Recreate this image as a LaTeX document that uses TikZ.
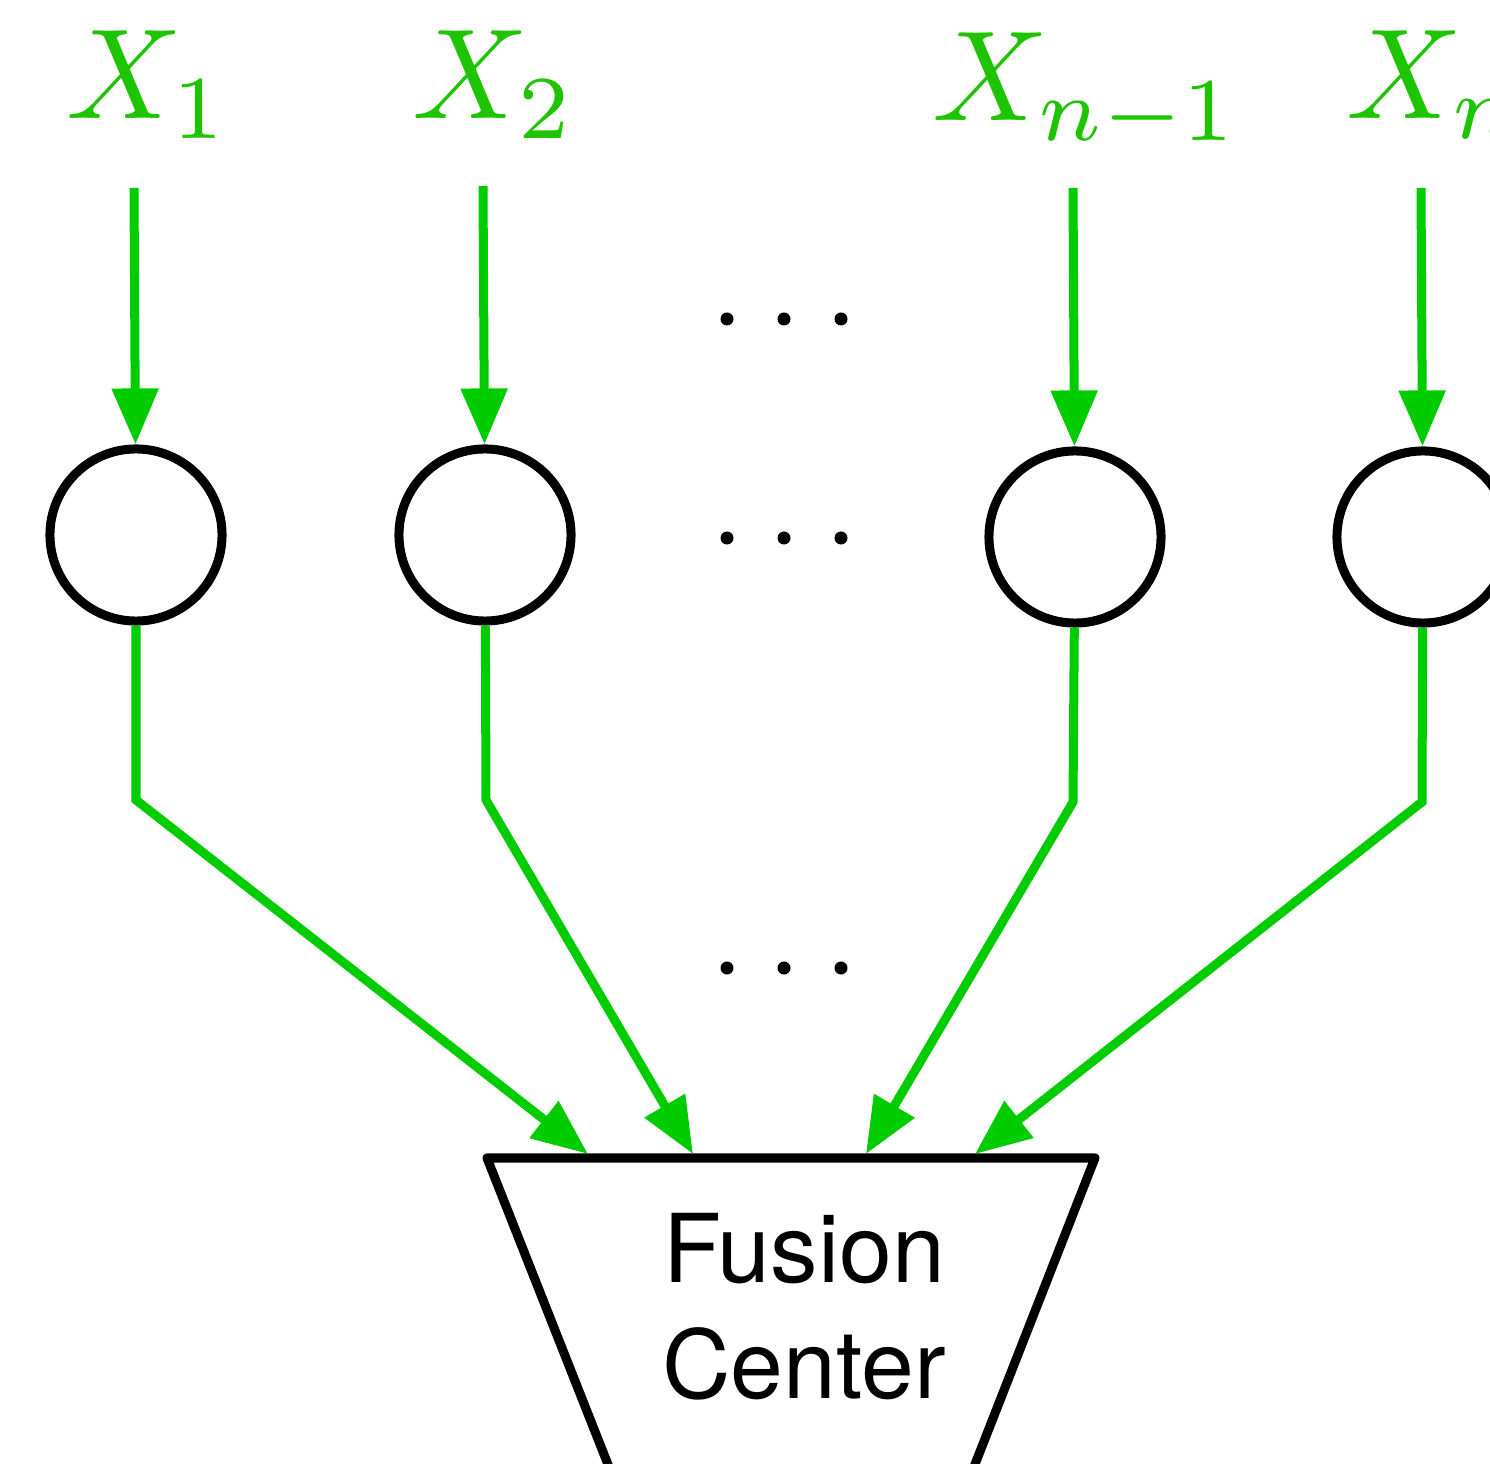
\documentclass[tikz,border=0pt]{standalone}
\usepackage{fontspec}
\setsansfont{TeX Gyre Heros}
\usetikzlibrary{arrows.meta}
\definecolor{sig}{RGB}{0,204,0}
\definecolor{lab}{RGB}{30,196,0}

\begin{document}
\begin{tikzpicture}[x=0.01cm,y=-0.01cm,
  wire/.style={draw=sig,line width=0.09cm},
  arr/.style={wire,-{Triangle[length=0.56cm,width=0.45cm]}},
  sensor/.style={circle,draw=black,line width=0.09cm,minimum size=1.72cm,inner sep=0pt},
  lbl/.style={text=lab,inner sep=0pt,anchor=base west,scale=3.65},
  dotmark/.style={fill=black,circle,inner sep=0pt,minimum size=0.13cm},
  fusiontext/.style={font=\sffamily\fontsize{27}{33}\selectfont,align=center,inner sep=0pt},
]
\useasboundingbox (0,0) rectangle (1490,1464);
\clip (0,0) rectangle (1490,1464);

% observation labels
\node[lbl] (x1) at (64,119) {$X_1$};
\node[lbl] (x2) at (410,119) {$X_2$};
\node[lbl] (x3) at (930,121) {$X_{n-1}$};
\node[lbl] (x4) at (1344,119) {$X_n$};

% local sensors
\node[sensor] (c1) at (136,535) {};
\node[sensor] (c2) at (485,535) {};
\node[sensor] (c3) at (1075,537) {};
\node[sensor] (c4) at (1423,537) {};

% start points of the input arrows
\coordinate (s1) at (134,188);
\coordinate (s2) at (483,186);
\coordinate (s3) at (1073,188);
\coordinate (s4) at (1421,188);

% bends of the links to the fusion center
\coordinate (b1) at (136,800);
\coordinate (b2) at (486,800);
\coordinate (b3) at (1073,802);
\coordinate (b4) at (1422,802);

% fusion center outline
\coordinate (tl) at (487,1158);
\coordinate (tr) at (1095,1158);
\coordinate (bl) at (622,1500);
\coordinate (br) at (961,1500);
\draw[line width=0.09cm,line join=round] (bl) -- (tl) -- (tr) -- (br);
\node[fusiontext] (fc) at (804,1307) {Fusion\\Center};

% arrival points on the top edge
\coordinate (t1) at (588,1154);
\coordinate (t2) at (693,1154);
\coordinate (t3) at (866,1154);
\coordinate (t4) at (975,1154);

% input arrows
\draw[arr] (s1) -- (c1);
\draw[arr] (s2) -- (c2);
\draw[arr] (s3) -- (c3);
\draw[arr] (s4) -- (c4);

% links to the fusion center
\draw[arr] (c1) -- (b1) -- (t1);
\draw[arr] (c2) -- (b2) -- (t2);
\draw[arr] (c3) -- (b3) -- (t3);
\draw[arr] (c4) -- (b4) -- (t4);

% ellipses
\foreach \r/\y in {a/319,b/538,c/968}{
  \node[dotmark] (d\r1) at (727,\y) {};
  \node[dotmark] (d\r2) at (784,\y) {};
  \node[dotmark] (d\r3) at (841,\y) {};
}
\end{tikzpicture}
\end{document}
